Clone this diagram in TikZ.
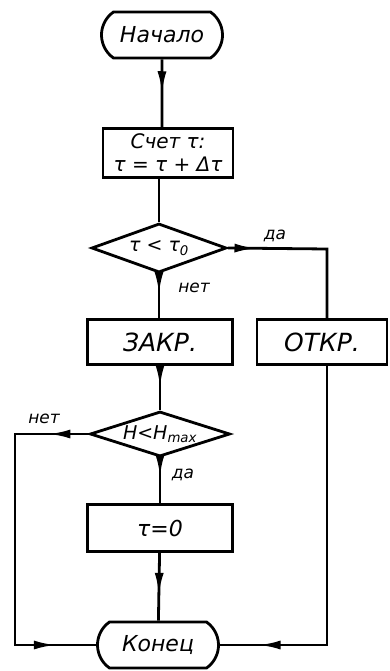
\documentclass[tikz,border=0pt]{standalone}
\usepackage{fontspec}
\setmainfont{DejaVu Sans}
\usetikzlibrary{shapes.geometric,shapes.misc,arrows.meta,decorations.markings}
\newcommand{\flowtip}{\arrow{Latex[length=22pt,width=9pt]}}
\begin{document}
\begin{tikzpicture}[x=1pt,y=-1pt,line width=2.8pt,
  every node/.style={font=\fontsize{22}{26}\selectfont\itshape},
  term/.style={draw,rounded rectangle,rounded rectangle arc length=110,minimum width=121pt,minimum height=46pt,inner sep=0pt},
  box/.style={draw,rectangle,inner sep=0pt,align=center},
  cond/.style={draw,diamond,aspect=3,inner sep=0pt,font=\fontsize{19}{22}\selectfont\itshape},
  lbl/.style={font=\fontsize{17}{19}\selectfont\itshape},
  flow/.style={postaction={decorate},decoration={markings,mark=at position #1 with {\flowtip}}},
  flowtwo/.style 2 args={postaction={decorate},decoration={markings,mark=at position #1 with {\flowtip},mark=at position #2 with {\flowtip}}}]
\useasboundingbox (0,0) rectangle (390,671);
\node[term] (start) at (162,35) {Начало};
\node[box,minimum width=130pt,minimum height=49pt,font=\fontsize{20}{23}\selectfont\itshape] (count) at (168,153) {Счет τ:\\τ = τ + Δτ};
\node[cond,minimum width=135pt,minimum height=49pt] (test) at (159,248) {τ < τ\textsubscript{0}};
\node[box,minimum width=145pt,minimum height=45pt,font=\fontsize{25}{28}\selectfont\itshape] (close) at (160,342) {ЗАКР.};
\node[box,minimum width=130pt,minimum height=45pt,font=\fontsize{25}{28}\selectfont\itshape] (open) at (322,342) {ОТКР.};
\node[cond,minimum width=140pt,minimum height=45pt] (level) at (160,434) {H<H\textsubscript{max}};
\node[box,minimum width=145pt,minimum height=47pt] (reset) at (160,528) {τ=0};
\node[term] (stop) at (158,645) {Конец};
% corners of the side branches
\coordinate (yes1) at (327,249);
\coordinate (no1) at (15,434);
\coordinate (no2) at (15,645);
\coordinate (open2) at (327,645);
\draw[flow=0.5] (start) -- (start |- count.north);
\draw (count.south -| test) -- (test.north);
\draw[flow=0.45] (test.south) -- (close.north -| test.south);
\draw[flow=0.17] (test.east) -- (yes1) -- (yes1 |- open.north);
\node[lbl] (yes1lbl) at (275,236) {да};
\node[lbl] (no1lbl) at (194,288) {нет};
\draw[flow=0.48] (close) -- (level);
\draw[flowtwo={0.11}{0.89}] (level.west) -- (no1) -- (no2) -- (stop.west);
\node[lbl] (no2lbl) at (44,419) {нет};
\draw[flow=0.42] (level) -- (reset);
\node[lbl] (yes2lbl) at (183,475) {да};
\draw[flow=0.62] (reset) -- (stop);
\draw[flow=0.9] (open.south -| yes1) -- (open2) -- (stop.east);
\end{tikzpicture}
\end{document}
